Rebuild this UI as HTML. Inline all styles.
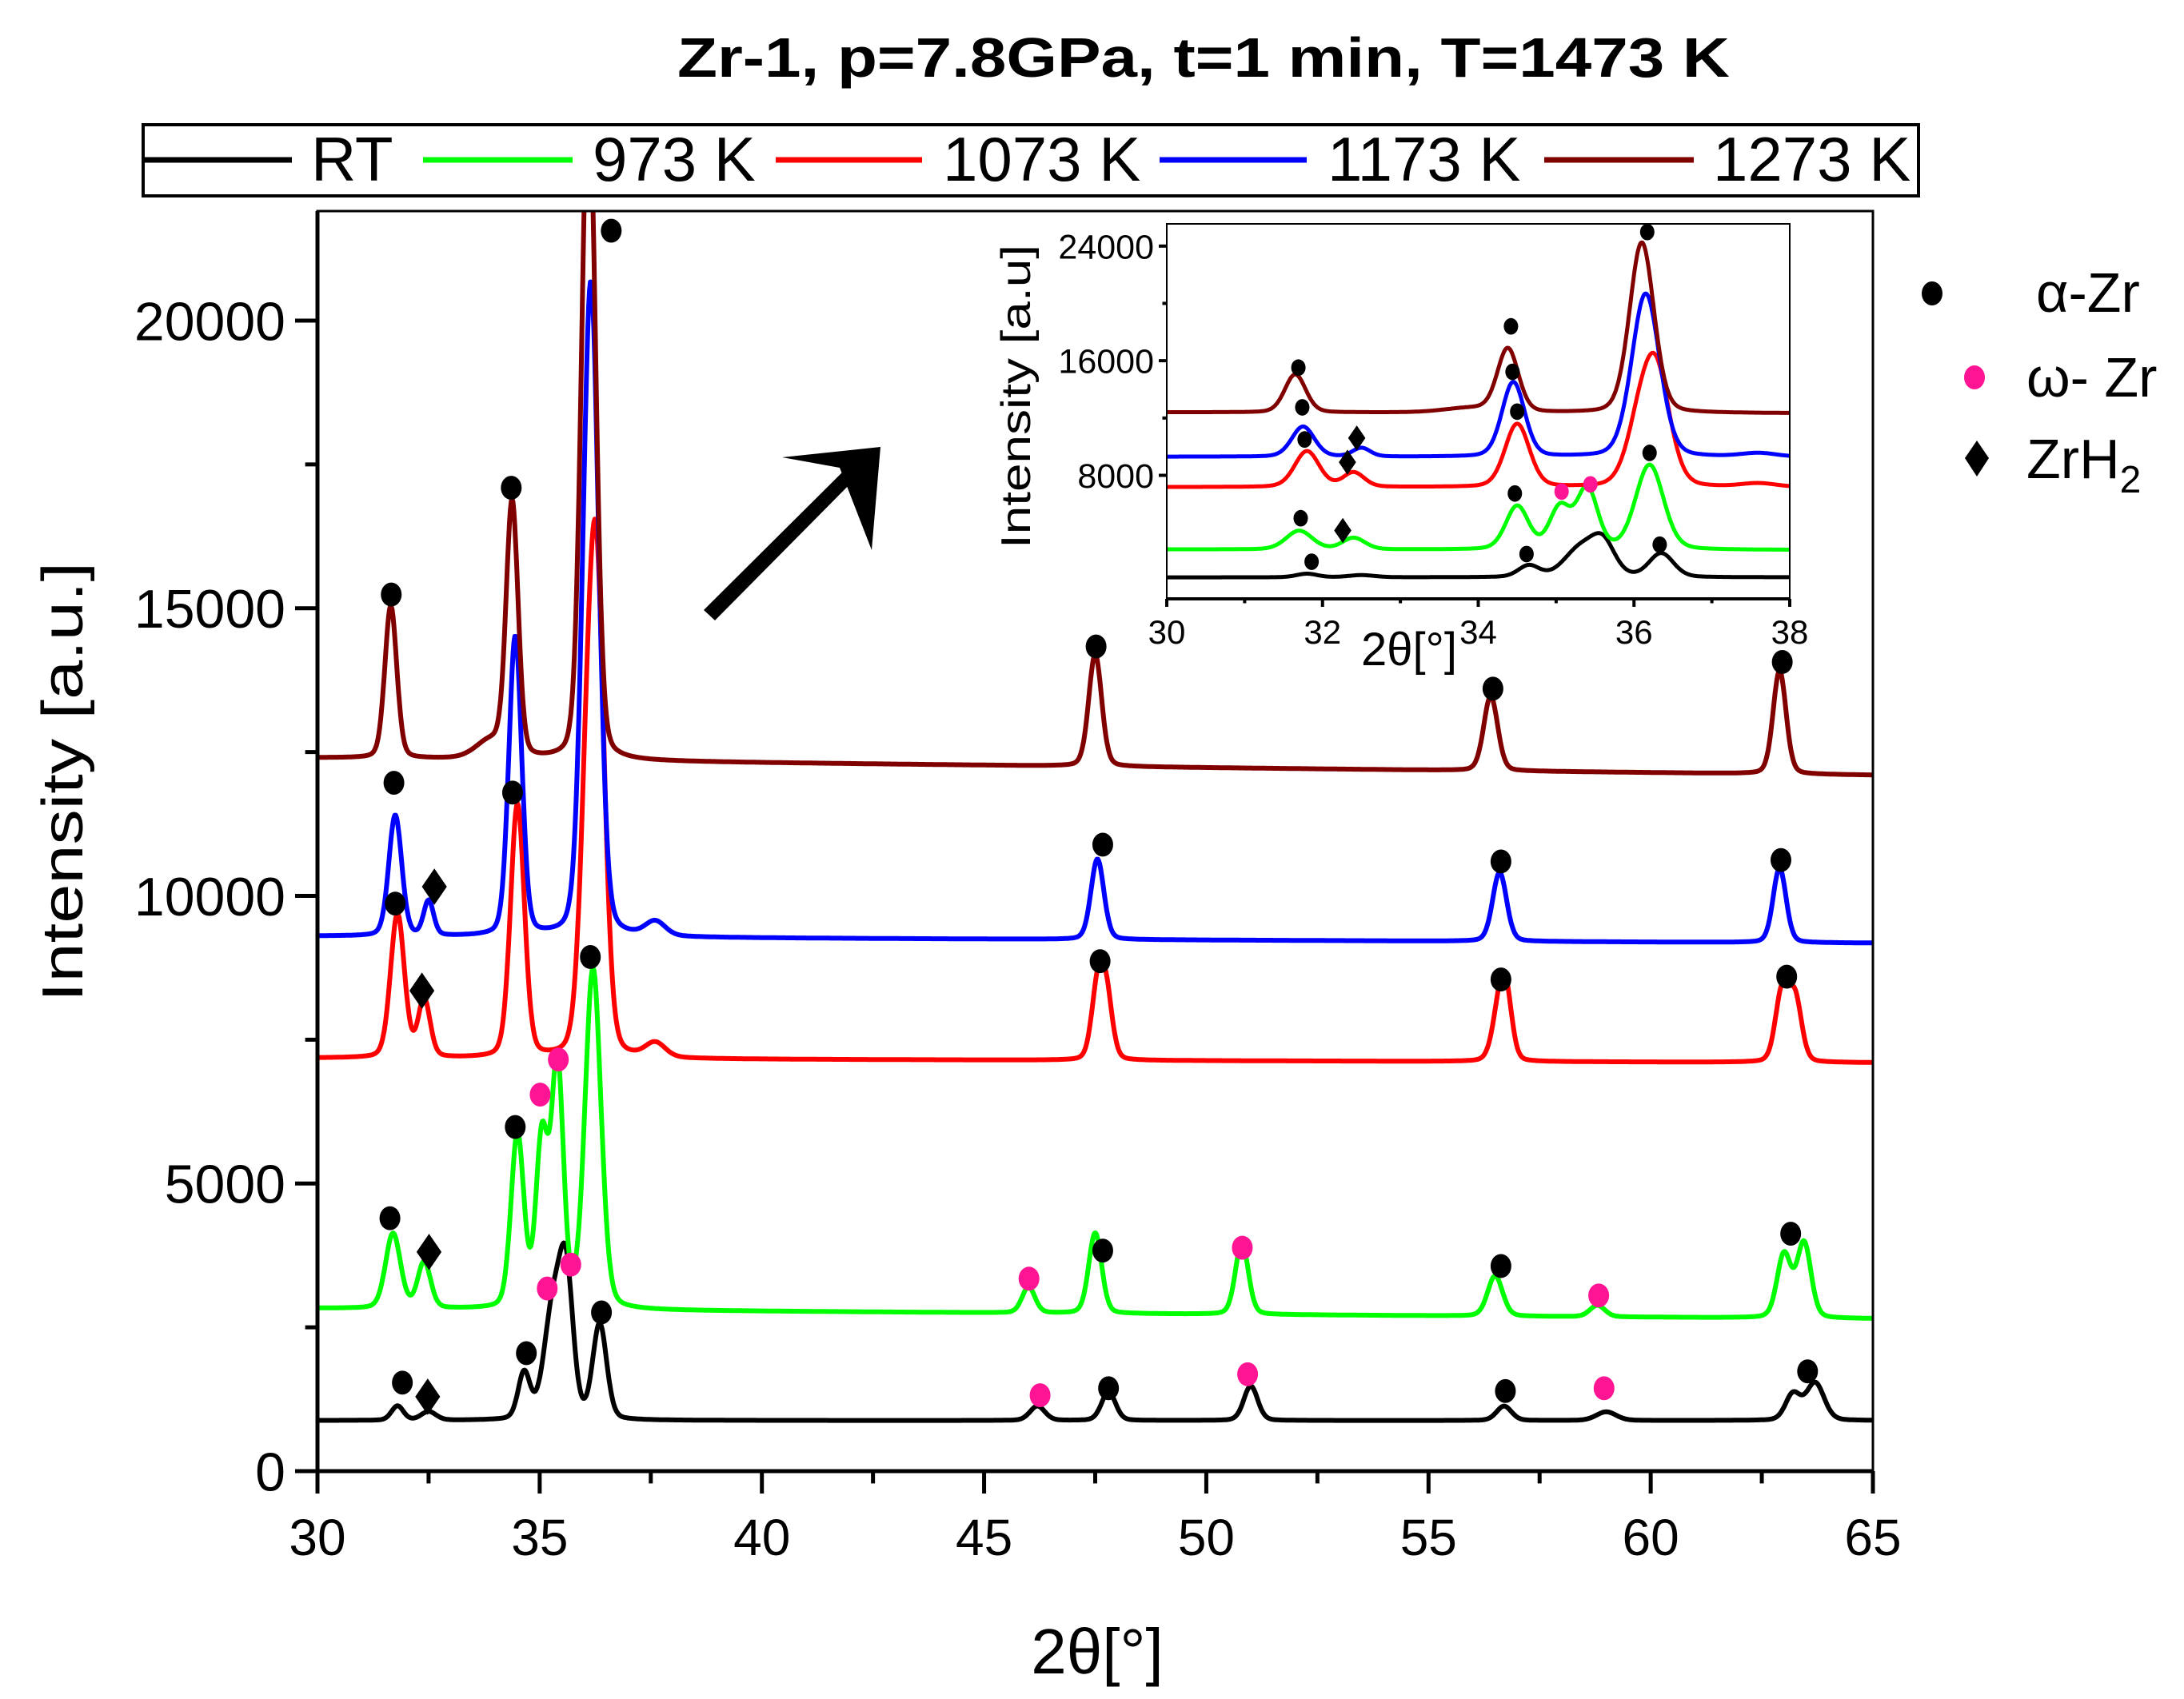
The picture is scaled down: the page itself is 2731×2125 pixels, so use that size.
<!DOCTYPE html>
<html><head><meta charset="utf-8"><title>Zr-1 XRD</title>
<style>html,body{margin:0;padding:0;background:#fff}svg{display:block;font-family:"Liberation Sans",Arial,sans-serif}</style>
</head><body>
<svg id="chart" width="2731" height="2125" viewBox="0 0 2731 2125" xmlns="http://www.w3.org/2000/svg">
<defs>
<clipPath id="mainClip"><rect x="397" y="264" width="1945" height="1576"/></clipPath>
<clipPath id="insetClip"><rect x="1459" y="280" width="779" height="469"/></clipPath>
</defs>
<text x="1505" y="96" text-anchor="middle" font-size="70" font-weight="bold" textLength="1316" lengthAdjust="spacingAndGlyphs">Zr-1, p=7.8GPa, t=1 min, T=1473 K</text>
<g>
<rect x="179" y="156" width="2220" height="89" fill="none" stroke="#000" stroke-width="4"/>
<g><line x1="179" y1="200" x2="365" y2="200" stroke="#000" stroke-width="7"/><text x="389" y="226" font-size="78">RT</text></g>
<g><line x1="529" y1="200" x2="716" y2="200" stroke="#00ff00" stroke-width="7"/><text x="741" y="226" font-size="78">973 K</text></g>
<g><line x1="970" y1="200" x2="1153" y2="200" stroke="#ff0000" stroke-width="7"/><text x="1179" y="226" font-size="78">1073 K</text></g>
<g><line x1="1450" y1="200" x2="1634" y2="200" stroke="#0000ff" stroke-width="7"/><text x="1660" y="226" font-size="78">1173 K</text></g>
<g><line x1="1931" y1="200" x2="2118" y2="200" stroke="#800000" stroke-width="7"/><text x="2142" y="226" font-size="78">1273 K</text></g>
</g>
<g>
<g><ellipse cx="2416" cy="367" rx="13" ry="15" fill="#000"/><text x="2546" y="390" font-size="70">α-Zr</text></g>
<g><ellipse cx="2469" cy="472" rx="13" ry="15" fill="#ff1493"/><text x="2534" y="496" font-size="70">ω- Zr</text></g>
<g><polygon points="2472,551 2487,573 2472,596 2457,573" fill="#000"/><text x="2534" y="598" font-size="70">ZrH<tspan font-size="48" dy="18">2</tspan></text></g>
</g>
<polygon points="880,763 1072,572 1085,583 894,776" fill="#000"/>
<polygon points="1101,559 978,572 1050,585 1090,688" fill="#000"/>
<g id="main"></g>
<g id="inset"></g>
</svg>
<script>
// ---- data ----
const seriesNames = ["RT","973 K","1073 K","1173 K","1273 K"];
const seriesColors = ["#000000","#00ff00","#ff0000","#0000ff","#800000"];
const baseStart = [880, 2830, 7180, 9300, 12400];
const baseEnd = [880, 2650, 7100, 9180, 12100];
const peakPosRT = [31.8,32.5,34.65,35.3,35.6,36.35,46.2,47.8,51.0,56.7,59.0,63.2,63.7];
const peakHtRT  = [250,150,800,1900,2300,1650,250,500,600,250,150,450,650];
const peakWdRT  = [0.12,0.15,0.12,0.18,0.14,0.14,0.15,0.14,0.14,0.15,0.2,0.15,0.18];
const peakPos973 = [31.7,32.4,34.5,35.05,35.4,36.2,46.0,47.5,50.8,56.5,58.8,63.0,63.45];
const peakHt973  = [1300,800,3000,2900,4200,5900,450,1400,1250,700,200,1100,1300];
const peakWd973  = [0.15,0.13,0.13,0.12,0.12,0.16,0.13,0.13,0.13,0.15,0.15,0.14,0.14];
const peakPos1073 = [31.8,32.4,34.5,36.05,36.28,37.6,47.55,47.75,56.6,56.75,62.95,63.25];
const peakHt1073  = [2500,1000,4400,3000,8000,250,1200,1100,900,900,1200,1100];
const peakWd1073  = [0.14,0.12,0.14,0.15,0.16,0.2,0.12,0.12,0.14,0.12,0.13,0.13];
const peakPos1173 = [31.75,32.5,34.45,36.15,37.6,47.55,56.6,62.9];
const peakHt1173  = [2100,600,5200,11400,250,1400,1200,1300];
const peakWd1173  = [0.13,0.1,0.13,0.16,0.2,0.13,0.14,0.13];
const peakPos1273 = [31.65,33.9,34.38,36.1,47.5,56.4,62.9];
const peakHt1273  = [2650,300,4400,11900,1950,1300,1800];
const peakWd1273  = [0.12,0.3,0.12,0.14,0.13,0.14,0.13];
const alphaX = [31.66,34.36,36.61,47.52,56.45,62.96,31.72,34.39,47.67,56.63,62.93,31.75,47.61,56.63,63.06,31.63,34.45,36.14,47.67,56.63,63.15,31.91,34.70,36.39,47.80,56.73,63.53];
const alphaY = [15238,17094,21563,14335,13602,14066,11966,11795,10891,10598,10623,9866,8864,8547,8596,4396,5983,8938,3834,3565,4127,1538,2051,2759,1441,1392,1734];
const omegaX = [35.01,35.42,35.70,35.17,46.01,50.81,58.83,46.26,50.93,58.95];
const omegaY = [6545,7155,3590,3175,3346,3883,3053,1319,1685,1441];
const hydX = [32.63,32.35,32.51,32.48];
const hydY = [10159,8352,3810,1294];
const xTicks = [30,35,40,45,50,55,60,65];
const yTicks = [0,5000,10000,15000,20000];
const insetXTicks = [30,32,34,36,38];
const insetYTicks = [8000,16000,24000];
const insetAlphaX = [31.69,31.74,31.77,31.72,31.86,34.42,34.44,34.50,34.47,34.62,36.17,36.20,36.33];
const insetAlphaY = [15520,12746,10503,5008,1970,18400,15224,12445,6732,2506,24983,9570,3162];
const insetOmegaX = [35.07,35.44];
const insetOmegaY = [6870,7368];
const insetHydX = [32.44,32.32,32.26];
const insetHydY = [10603,8916,4154];

const peakPos=[peakPosRT,peakPos973,peakPos1073,peakPos1173,peakPos1273];
const peakHt=[peakHtRT,peakHt973,peakHt1073,peakHt1173,peakHt1273];
const peakWd=[peakWdRT,peakWd973,peakWd1073,peakWd1173,peakWd1273];

const NS="http://www.w3.org/2000/svg";
function mk(tag,attrs,parent){const e=document.createElementNS(NS,tag);for(const k in attrs)e.setAttribute(k,attrs[k]);parent.appendChild(e);return e;}
function intensity(s,x){
  let v=baseStart[s]+(baseEnd[s]-baseStart[s])*(x-30)/35;
  const P=peakPos[s],H=peakHt[s],W=peakWd[s];
  for(let i=0;i<P.length;i++){const d=(x-P[i])/(W[i]*1.12);v+=H[i]*(0.8*Math.exp(-0.5*d*d)+0.2/(1+d*d*0.7));}
  return v;
}
function drawPlot(g,o){
  const X=v=>o.x0+(v-o.xmin)/(o.xmax-o.xmin)*(o.x1-o.x0);
  const Y=v=>o.y0-(v-o.ymin)/(o.ymax-o.ymin)*(o.y0-o.y1);
  const cg=mk('g',{'clip-path':'url(#'+o.clip+')'},g);
  for(let s=0;s<seriesNames.length;s++){
    let d='';
    for(let x=o.xmin;x<=o.xmax+1e-9;x+=o.step){d+=(d?'L':'M')+X(x).toFixed(1)+','+Y(intensity(s,x)).toFixed(1);}
    const p=mk('path',{d:d,fill:'none',stroke:seriesColors[s],'stroke-width':o.sw,'stroke-linejoin':'round'},cg);
    
    
  }
  for(let i=0;i<o.ax.length;i++){
    const m=mk('ellipse',{cx:X(o.ax[i]),cy:Y(o.ay[i]),rx:o.r,ry:o.r*1.15,fill:'#000'},g);
    
    
  }
  for(let i=0;i<o.ox.length;i++){
    const m=mk('ellipse',{cx:X(o.ox[i]),cy:Y(o.oy[i]),rx:o.r,ry:o.r*1.15,fill:'#ff1493'},g);
    
    
  }
  for(let i=0;i<o.hx.length;i++){
    const cx=X(o.hx[i]),cy=Y(o.hy[i]),w=o.r*1.2,h=o.r*1.75;
    const m=mk('polygon',{points:`${cx},${cy-h} ${cx+w},${cy} ${cx},${cy+h} ${cx-w},${cy}`,fill:'#000'},g);
    
    
  }
  const fr=mk('rect',{x:o.x0,y:o.y1,width:o.x1-o.x0,height:o.y0-o.y1,fill:'none',stroke:'#000','stroke-width':o.fw},g);
  
  
  const xa=mk('line',{x1:o.x0,y1:o.y0,x2:o.x1,y2:o.y0,stroke:'#000','stroke-width':o.aw},g);
  
  
  if(o.leftThick){const ya=mk('line',{x1:o.x0,y1:o.y0,x2:o.x0,y2:o.y1,stroke:'#000','stroke-width':o.aw},g);
    
    }
  for(let i=0;i<o.xt.length;i++){
    const v=o.xt[i],px=X(v);
    mk('line',{x1:px,y1:o.y0,x2:px,y2:o.y0+o.tl,stroke:'#000','stroke-width':o.aw},g);
    if(i<o.xt.length-1){const mx=X(v+(o.xt[1]-o.xt[0])/2);mk('line',{x1:mx,y1:o.y0,x2:mx,y2:o.y0+o.tl*0.55,stroke:'#000','stroke-width':o.aw},g);}
    const t=mk('text',{x:px,y:o.xly,'text-anchor':'middle','font-size':o.fs},g);t.textContent=v;
    
    
  }
  for(let i=0;i<o.yt.length;i++){
    const v=o.yt[i],py=Y(v);
    mk('line',{x1:o.x0-o.tl,y1:py,x2:o.x0,y2:py,stroke:'#000','stroke-width':o.aw},g);
    const mv=v+o.ym; if(Y(mv)>o.y1){mk('line',{x1:o.x0-o.tl*0.55,y1:Y(mv),x2:o.x0,y2:Y(mv),stroke:'#000','stroke-width':o.aw},g);}
    const t=mk('text',{x:o.x0-o.tl-o.lg,y:py+o.yfs*0.36,'text-anchor':'end','font-size':o.yfs},g);t.textContent=v;
    
    
  }
}
const main=document.getElementById('main');
drawPlot(main,{prefix:'',clip:'mainClip',x0:397,x1:2342,y0:1840,y1:264,xmin:30,xmax:65,ymin:0,ymax:21904,step:0.02,sw:6,r:13,
  ax:alphaX,ay:alphaY,ox:omegaX,oy:omegaY,hx:hydX,hy:hydY,fw:3,aw:5,leftThick:true,xt:xTicks,yt:yTicks,ym:2500,tl:28,fs:64,yfs:68,xly:1945,lg:12});
const inset=document.getElementById('inset');
mk('rect',{x:1459,y:280,width:779,height:469,fill:'#fff'},inset);
drawPlot(inset,{prefix:'inset-',clip:'insetClip',x0:1459,x1:2238,y0:749,y1:280,xmin:30,xmax:38,ymin:-620,ymax:25550,step:0.01,sw:5,r:9,
  ax:insetAlphaX,ay:insetAlphaY,ox:insetOmegaX,oy:insetOmegaY,hx:insetHydX,hy:insetHydY,fw:2,aw:4,leftThick:false,xt:insetXTicks,yt:insetYTicks,ym:4000,tl:10,fs:42,yfs:43,xly:805,lg:6});
</script>
<svg style="position:absolute;left:0;top:0" width="2731" height="2125">
<text x="1372" y="2093" text-anchor="middle" font-size="80" font-family="Liberation Sans, sans-serif">2θ[°]</text>
<text transform="translate(103,978) rotate(-90)" text-anchor="middle" font-size="72" font-family="Liberation Sans, sans-serif" textLength="550" lengthAdjust="spacingAndGlyphs">Intensity [a.u.]</text>
<text x="1762" y="832" text-anchor="middle" font-size="58" font-family="Liberation Sans, sans-serif">2θ[°]</text>
<text transform="translate(1288,496) rotate(-90)" text-anchor="middle" font-size="52" font-family="Liberation Sans, sans-serif" textLength="380" lengthAdjust="spacingAndGlyphs">Intensity [a.u]</text>
</svg>
</body></html>
